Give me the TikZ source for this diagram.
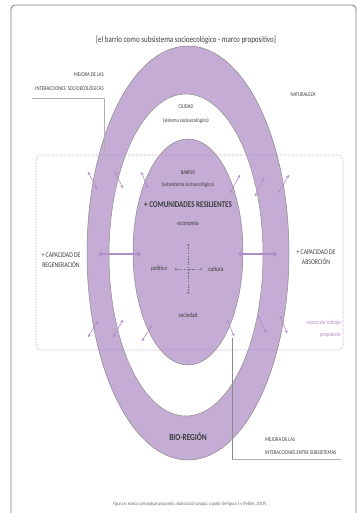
\documentclass[tikz,border=0pt]{standalone}
\usepackage{fontspec}
\setmainfont{Carlito}[FakeStretch=0.8]
\usetikzlibrary{arrows.meta}
\definecolor{ringc}{HTML}{C4ACD4}
\definecolor{arrc}{HTML}{B08CC9}
\definecolor{txtc}{HTML}{3C3C3C}
\definecolor{edgec}{HTML}{8A8A8A}
\definecolor{framec}{HTML}{7A7A7A}
\definecolor{linec}{HTML}{B0B0B0}
\definecolor{capc}{HTML}{606060}
\definecolor{crossc}{HTML}{6E6E6E}
\tikzset{
  x=1pt,y=-1pt,
  ring/.style={fill=ringc,draw=edgec,line width=0.5pt},
  hole/.style={fill=white,draw=edgec,line width=0.5pt},
  lbl/.style={text=txtc,inner sep=0pt,align=center,font=\fontsize{5.8}{7}\selectfont},
  caplbl/.style={text=txtc,inner sep=0pt,align=center,font=\fontsize{7.2}{8.5}\selectfont},
  bigarrow/.style={draw=arrc,line width=1.1pt,{Stealth[length=4pt,width=6pt,inset=1.5pt]}-{Stealth[length=4pt,width=6pt,inset=1.5pt]}},
  smallarrow/.style={draw=arrc,line width=0.6pt,{Stealth[length=2.8pt,width=3.4pt,inset=1pt]}-{Stealth[length=2.8pt,width=3.4pt,inset=1pt]}},
  crossarrow/.style={draw=crossc,dash pattern=on 1.4pt off 1.4pt,line width=0.35pt,{Straight Barb[length=1.4pt,width=2.2pt]}-{Straight Barb[length=1.4pt,width=2.2pt]}},
  leader/.style={draw=linec,line width=0.6pt},
  leaderdark/.style={draw=edgec,line width=0.6pt}
}
\begin{document}
\begin{tikzpicture}
\useasboundingbox (0,0) rectangle (357,513);
% frame
\draw[framec,line width=0.8pt,rounded corners=4pt] (11,530) -- (11,5) -- (356,5) -- (356,530);
% ellipses
\path[ring] (188,253) ellipse [x radius=101, y radius=207];
\path[hole] (186,255) ellipse [x radius=77, y radius=161];
\path[ring] (188,252) ellipse [x radius=55, y radius=113];
% proposed frame
\draw[arrc,densely dotted,line width=0.6pt,rounded corners=5pt] (36,155) rectangle (343,350);
% title and labels
\node[lbl,font=\fontsize{8.8}{10}\selectfont] (title) at (186,40) {[el barrio como subsistema socioecológico - marco propositivo]};
\node[lbl,align=right,anchor=east] (mej1) at (104,75) {MEJORA DE LAS};
\node[lbl,align=right,anchor=east] (mej2) at (104,88) {INTERACCIONES\ \ SOCIOECOLÓGICAS};
\node[lbl] (nat) at (303,95) {NATURALEZA};
\node[lbl] (ciudad) at (186,107) {CIUDAD};
\node[lbl] (ciudad2) at (186,121) {(sistema socioecológico)};
\node[lbl] (barrio) at (188,173) {BARRIO};
\node[lbl] (barrio2) at (188,185) {(subsistema socioecológico)};
\node[lbl,font=\bfseries\fontsize{8.8}{10}\selectfont] (com) at (188,205) {+ COMUNIDADES RESILIENTES};
\node[lbl,font=\fontsize{6.6}{8}\selectfont] (eco) at (188,223) {economía};
\node[lbl,font=\fontsize{6.6}{8}\selectfont] (pol) at (159,269) {política};
\node[lbl,font=\fontsize{6.6}{8}\selectfont] (cul) at (216,269) {cultura};
\node[lbl,font=\fontsize{6.6}{8}\selectfont] (soc) at (188,315) {sociedad};
\node[caplbl] (regen) at (61,260) {+ CAPACIDAD DE\\[1.5pt]REGENERACIÓN};
\node[caplbl] (absor) at (316,257.5) {+ CAPACIDAD DE\\[1.5pt]ABSORCIÓN};
\node[lbl,text=arrc,align=right,anchor=east,font=\fontsize{6.2}{12}\selectfont] (marco) at (341,329) {marco de trabajo\\propuesto};
\node[lbl,font=\bfseries\fontsize{9.2}{10}\selectfont] (bio) at (188,437) {BIO-REGIÓN};
\node[lbl,align=left,anchor=west] (mej3) at (265,440) {MEJORA DE LAS};
\node[lbl,align=left,anchor=west] (mej4) at (265,453) {INTERACCIONES ENTRE SUBSISTEMAS};
\node[lbl,text=capc,font=\fontsize{5}{6}\selectfont] (cap) at (190,504) {Figura 6: marco conceptual propuesto, elaboración propia, a partir de Figura 5 y (Febles, 2019).};
% central cross
\coordinate (ct) at (188,244);
\coordinate (cb) at (188,294);
\coordinate (cl) at (175,269);
\coordinate (cr) at (202,269);
\draw[crossarrow] (ct) -- (cb);
\draw[crossarrow] (cl) -- (cr);
% big arrows
\coordinate (la) at (98,254);
\coordinate (lb) at (141,254);
\coordinate (ra) at (238,254);
\coordinate (rb) at (277,254);
\draw[bigarrow] (la) -- (lb);
\draw[bigarrow] (ra) -- (rb);
% small arrows top row
\coordinate (t1a) at (88,172); \coordinate (t1b) at (97,189);
\coordinate (t2a) at (115,172); \coordinate (t2b) at (123,188);
\coordinate (t3a) at (141,172); \coordinate (t3b) at (148,188);
\coordinate (t4a) at (230,193); \coordinate (t4b) at (240,175);
\coordinate (t5a) at (255,196); \coordinate (t5b) at (264,178);
\coordinate (t6a) at (278,193); \coordinate (t6b) at (289,175);
\foreach \i in {1,...,6} {\draw[smallarrow] (t\i a) -- (t\i b);}
% small arrows bottom row
\coordinate (b1a) at (88,337); \coordinate (b1b) at (98,321);
\coordinate (b2a) at (113,337); \coordinate (b2b) at (123,320);
\coordinate (b3a) at (142,341); \coordinate (b3b) at (152,325);
\coordinate (b4a) at (227,320); \coordinate (b4b) at (234,336);
\coordinate (b5a) at (258,316); \coordinate (b5b) at (266,333);
\coordinate (b6a) at (280,316); \coordinate (b6b) at (287,333);
\foreach \i in {1,...,6} {\draw[smallarrow] (b\i a) -- (b\i b);}
% leader lines
\coordinate (l1a) at (32,98);
\coordinate (l1b) at (104,98);
\coordinate (l1c) at (104,157);
\draw[leader] (l1a) -- (l1b) -- (l1c);
\coordinate (l2a) at (232,338);
\coordinate (l2b) at (232,459);
\coordinate (l2c) at (341,459);
\draw[leaderdark] (l2a) -- (l2b);
\draw[leader] (l2b) -- (l2c);
\end{tikzpicture}
\end{document}
